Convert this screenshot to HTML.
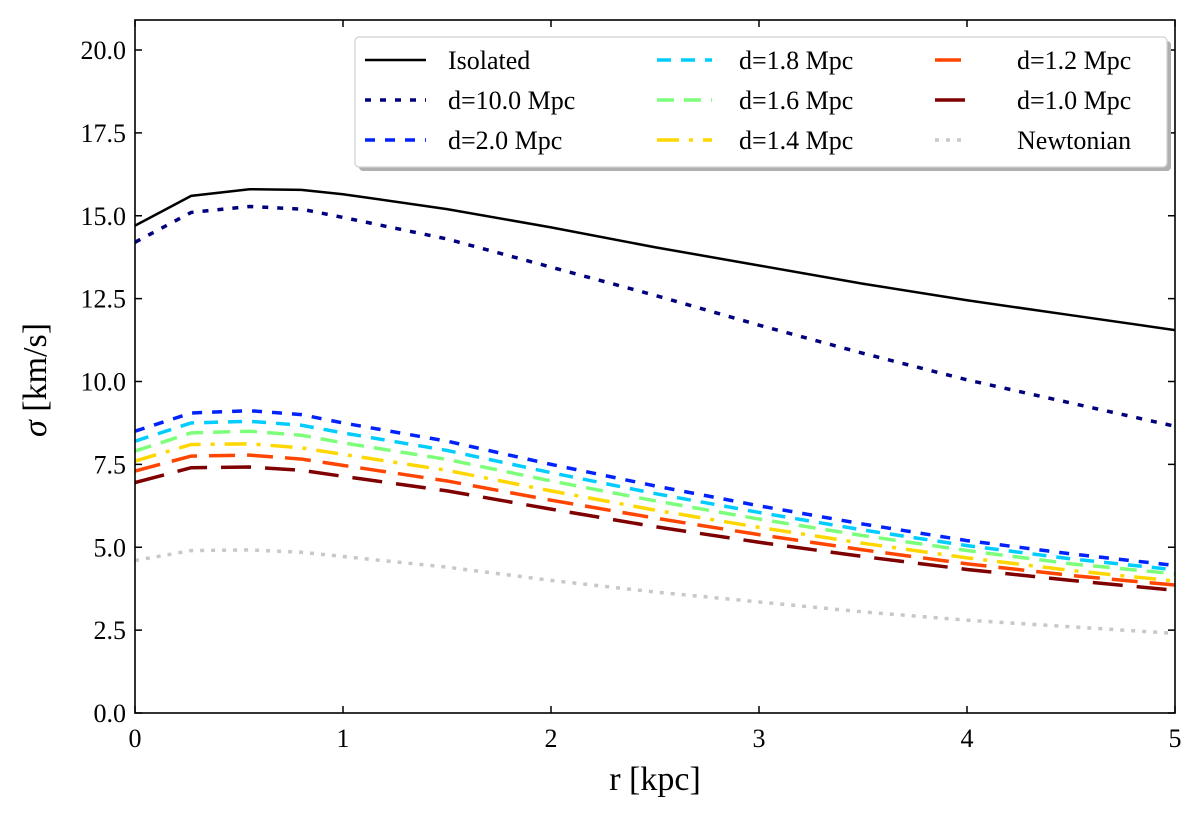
<!DOCTYPE html>
<html><head><meta charset="utf-8"><style>
body{margin:0;background:#fff}
svg text{font-family:"Liberation Serif",serif;fill:#000}
</style></head><body>
<svg id="chart" width="1200" height="820" xmlns="http://www.w3.org/2000/svg">
<defs><clipPath id="clip"><rect x="135" y="20" width="1040" height="693"/></clipPath></defs>
<g id="axes"></g>
<g id="series" clip-path="url(#clip)"></g>
<rect x="135" y="20" width="1040" height="693" fill="none" stroke="#000" stroke-width="1.6"/>
<text x="655" y="790" font-size="34" text-anchor="middle">r [kpc]</text>
<text transform="translate(46,380) rotate(-90)" font-size="34" text-anchor="middle"><tspan font-style="italic">σ</tspan> [km/s]</text>
<g id="legend"></g>
</svg>
<script>
const rVals=[0,0.27,0.55,0.8,1.0,1.5,2,2.5,3,3.5,4,4.5,5];
const isolated=[14.7,15.6,15.8,15.78,15.65,15.2,14.65,14.05,13.5,12.95,12.45,12.0,11.55];
const d100=[14.2,15.1,15.28,15.2,14.95,14.3,13.45,12.6,11.7,10.85,10.05,9.35,8.65];
const d20=[8.5,9.05,9.12,9.0,8.75,8.2,7.5,6.85,6.25,5.7,5.2,4.8,4.45];
const d18=[8.2,8.75,8.8,8.68,8.45,7.92,7.25,6.62,6.05,5.52,5.05,4.65,4.32];
const d16=[7.9,8.45,8.5,8.38,8.15,7.65,7.0,6.4,5.85,5.35,4.9,4.5,4.2];
const d14=[7.6,8.1,8.12,8.0,7.8,7.32,6.7,6.12,5.6,5.12,4.68,4.3,3.98];
const d12=[7.3,7.75,7.78,7.66,7.47,7.0,6.42,5.88,5.38,4.92,4.5,4.15,3.86];
const d10=[6.95,7.4,7.42,7.32,7.14,6.7,6.15,5.62,5.15,4.72,4.33,4.0,3.7];
const newton=[4.6,4.9,4.92,4.85,4.72,4.4,4.0,3.65,3.35,3.05,2.8,2.6,2.4];
const xTicks=[0,1,2,3,4,5];
const yTicks=[0,2.5,5,7.5,10,12.5,15,17.5,20];
const labels=["Isolated","d=10.0 Mpc","d=2.0 Mpc","d=1.8 Mpc","d=1.6 Mpc","d=1.4 Mpc","d=1.2 Mpc","d=1.0 Mpc","Newtonian"];
const NS="http://www.w3.org/2000/svg";
const X=v=>135+v*208, Y=v=>713-v*33.15;
function mk(t,a,p){const e=document.createElementNS(NS,t);for(const k in a)e.setAttribute(k,a[k]);p.appendChild(e);return e;}
const ax=document.getElementById('axes');
xTicks.forEach(v=>{
 const t=mk('line',{x1:X(v),x2:X(v),y1:713,y2:706,stroke:'#000','stroke-width':1.5},ax);
 
 
 const t2=mk('line',{x1:X(v),x2:X(v),y1:20,y2:27,stroke:'#000','stroke-width':1.5},ax);
 
 
 const l=mk('text',{x:X(v),y:747,'font-size':26,'text-anchor':'middle'},ax);l.textContent=v;
 
 
});
yTicks.forEach(v=>{
 const t=mk('line',{x1:135,x2:142,y1:Y(v),y2:Y(v),stroke:'#000','stroke-width':1.5},ax);
 
 
 const t2=mk('line',{x1:1168,x2:1175,y1:Y(v),y2:Y(v),stroke:'#000','stroke-width':1.5},ax);
 
 
 const l=mk('text',{x:126,y:Y(v)+9,'font-size':26,'text-anchor':'end'},ax);l.textContent=v.toFixed(1);
 
 
});
const styles=[
 {d:isolated,c:'#000',dash:'',w:2.5},
 {d:d100,c:'#00007f',dash:'6,9',w:3.5},
 {d:d20,c:'#0022ff',dash:'10,10',w:3.5},
 {d:d18,c:'#00ccff',dash:'14,10',w:3.5},
 {d:d16,c:'#7cff79',dash:'17,10',w:3.5},
 {d:d14,c:'#ffd700',dash:'22,10,4,10',w:3.5},
 {d:d12,c:'#ff4500',dash:'26,12',w:3.5},
 {d:d10,c:'#7f0000',dash:'30,14',w:3.5},
 {d:newton,c:'#c8c8c8',dash:'4,7',w:3.5}
];
const sg=document.getElementById('series');
styles.forEach((s,i)=>{
 const p=mk('polyline',{points:rVals.map((r,j)=>X(r)+','+Y(s.d[j])).join(' '),fill:'none',stroke:s.c,'stroke-width':s.w,'stroke-dasharray':s.dash},sg);
 
 
});
const lg=document.getElementById('legend');
const sh=mk('rect',{x:359,y:41,width:812,height:130,rx:4,fill:'#b0b0b0'},lg);


const bx=mk('rect',{x:355,y:37,width:812,height:130,rx:4,fill:'#fff',stroke:'#d0d0d0','stroke-width':1.2},lg);


const colL=[[365,426,448],[657,712,739],[935,965,1017]];
styles.forEach((s,i)=>{
 const c=colL[Math.floor(i/3)], y=60+(i%3)*40;
 const g=mk('g',{},lg);
 
 
 mk('line',{x1:c[0],x2:c[1],y1:y,y2:y,stroke:s.c,'stroke-width':s.w,'stroke-dasharray':s.dash},g);
 const t=mk('text',{x:c[2],y:y+9,'font-size':26},g);t.textContent=labels[i];
});
</script>
</body></html>
